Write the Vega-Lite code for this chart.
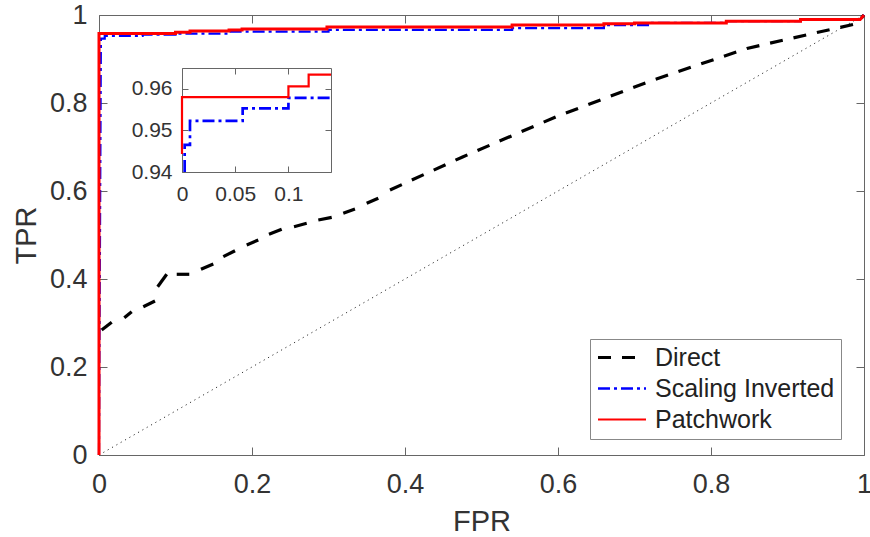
{
  "$schema": "https://vega.github.io/schema/vega-lite/v6.json",
  "width": 765,
  "height": 440,
  "autosize": {"type": "none"},
  "padding": {"left": 99, "top": 15, "right": 6, "bottom": 82},
  "background": "white",
  "config": {
    "view": {"stroke": null},
    "axis": {
      "grid": false,
      "domainColor": "#666666",
      "tickColor": "#666666",
      "labelColor": "#333333",
      "titleColor": "#333333",
      "labelFont": "Liberation Sans",
      "titleFont": "Liberation Sans",
      "titleFontWeight": "normal",
      "labelFlush": false,
      "labelOverlap": false
    }
  },
  "datasets": {
    "directDashes": [
      {"fpr": 0.0035, "tpr": 0.2841, "fpr2": 0.0166, "tpr2": 0.3016},
      {"fpr": 0.0331, "tpr": 0.312, "fpr2": 0.0427, "tpr2": 0.3257},
      {"fpr": 0.0579, "tpr": 0.337, "fpr2": 0.0732, "tpr2": 0.35},
      {"fpr": 0.0767, "tpr": 0.3825, "fpr2": 0.0885, "tpr2": 0.4107},
      {"fpr": 0.1016, "tpr": 0.4107, "fpr2": 0.118, "tpr2": 0.4107},
      {"fpr": 0.1333, "tpr": 0.422, "fpr2": 0.1494, "tpr2": 0.4341},
      {"fpr": 0.1625, "tpr": 0.4507, "fpr2": 0.1778, "tpr2": 0.4643},
      {"fpr": 0.1931, "tpr": 0.4773, "fpr2": 0.2082, "tpr2": 0.4886},
      {"fpr": 0.2222, "tpr": 0.5016, "fpr2": 0.2388, "tpr2": 0.513},
      {"fpr": 0.2549, "tpr": 0.5189, "fpr2": 0.2715, "tpr2": 0.5266},
      {"fpr": 0.2867, "tpr": 0.5341, "fpr2": 0.3042, "tpr2": 0.5402},
      {"fpr": 0.3193, "tpr": 0.5493, "fpr2": 0.3346, "tpr2": 0.5591},
      {"fpr": 0.3499, "tpr": 0.572, "fpr2": 0.3651, "tpr2": 0.5834}
    ],
    "direct": [
      {"i": 0, "fpr": 0.3804, "tpr": 0.6023},
      {"i": 1, "fpr": 0.476, "tpr": 0.678},
      {"i": 2, "fpr": 0.598, "tpr": 0.769},
      {"i": 3, "fpr": 0.724, "tpr": 0.852},
      {"i": 4, "fpr": 0.847, "tpr": 0.924},
      {"i": 5, "fpr": 0.933, "tpr": 0.958},
      {"i": 6, "fpr": 0.99, "tpr": 0.98},
      {"i": 7, "fpr": 1, "tpr": 1}
    ],
    "main": [
      {"series": "Scaling Inverted", "i": 0, "fpr": 0, "tpr": 0},
      {"series": "Scaling Inverted", "i": 1, "fpr": 0.0025, "tpr": 0.9465},
      {"series": "Scaling Inverted", "i": 2, "fpr": 0.0075, "tpr": 0.9465},
      {"series": "Scaling Inverted", "i": 3, "fpr": 0.0075, "tpr": 0.9523},
      {"series": "Scaling Inverted", "i": 4, "fpr": 0.057, "tpr": 0.9523},
      {"series": "Scaling Inverted", "i": 5, "fpr": 0.057, "tpr": 0.9553},
      {"series": "Scaling Inverted", "i": 6, "fpr": 0.1, "tpr": 0.9553},
      {"series": "Scaling Inverted", "i": 7, "fpr": 0.1, "tpr": 0.9578},
      {"series": "Scaling Inverted", "i": 8, "fpr": 0.168, "tpr": 0.9578},
      {"series": "Scaling Inverted", "i": 9, "fpr": 0.168, "tpr": 0.962},
      {"series": "Scaling Inverted", "i": 10, "fpr": 0.3, "tpr": 0.962},
      {"series": "Scaling Inverted", "i": 11, "fpr": 0.3, "tpr": 0.966},
      {"series": "Scaling Inverted", "i": 12, "fpr": 0.54, "tpr": 0.966},
      {"series": "Scaling Inverted", "i": 13, "fpr": 0.54, "tpr": 0.97},
      {"series": "Scaling Inverted", "i": 14, "fpr": 0.66, "tpr": 0.97},
      {"series": "Scaling Inverted", "i": 15, "fpr": 0.66, "tpr": 0.977},
      {"series": "Scaling Inverted", "i": 16, "fpr": 0.72, "tpr": 0.977},
      {"series": "Scaling Inverted", "i": 17, "fpr": 0.72, "tpr": 0.982},
      {"series": "Scaling Inverted", "i": 18, "fpr": 0.82, "tpr": 0.982},
      {"series": "Scaling Inverted", "i": 19, "fpr": 0.82, "tpr": 0.986},
      {"series": "Scaling Inverted", "i": 20, "fpr": 0.917, "tpr": 0.986},
      {"series": "Scaling Inverted", "i": 21, "fpr": 0.917, "tpr": 0.99},
      {"series": "Scaling Inverted", "i": 22, "fpr": 0.995, "tpr": 0.99},
      {"series": "Scaling Inverted", "i": 23, "fpr": 1, "tpr": 1},

      {"series": "Patchwork", "i": 0, "fpr": 0, "tpr": 0},
      {"series": "Patchwork", "i": 1, "fpr": 0, "tpr": 0.958},
      {"series": "Patchwork", "i": 2, "fpr": 0.1, "tpr": 0.958},
      {"series": "Patchwork", "i": 3, "fpr": 0.1, "tpr": 0.9606},
      {"series": "Patchwork", "i": 4, "fpr": 0.119, "tpr": 0.9606},
      {"series": "Patchwork", "i": 5, "fpr": 0.119, "tpr": 0.9634},
      {"series": "Patchwork", "i": 6, "fpr": 0.17, "tpr": 0.9634},
      {"series": "Patchwork", "i": 7, "fpr": 0.17, "tpr": 0.966},
      {"series": "Patchwork", "i": 8, "fpr": 0.187, "tpr": 0.966},
      {"series": "Patchwork", "i": 9, "fpr": 0.187, "tpr": 0.968},
      {"series": "Patchwork", "i": 10, "fpr": 0.298, "tpr": 0.968},
      {"series": "Patchwork", "i": 11, "fpr": 0.298, "tpr": 0.973},
      {"series": "Patchwork", "i": 12, "fpr": 0.54, "tpr": 0.973},
      {"series": "Patchwork", "i": 13, "fpr": 0.54, "tpr": 0.977},
      {"series": "Patchwork", "i": 14, "fpr": 0.66, "tpr": 0.977},
      {"series": "Patchwork", "i": 15, "fpr": 0.66, "tpr": 0.98},
      {"series": "Patchwork", "i": 16, "fpr": 0.7, "tpr": 0.98},
      {"series": "Patchwork", "i": 17, "fpr": 0.7, "tpr": 0.982},
      {"series": "Patchwork", "i": 18, "fpr": 0.82, "tpr": 0.982},
      {"series": "Patchwork", "i": 19, "fpr": 0.82, "tpr": 0.986},
      {"series": "Patchwork", "i": 20, "fpr": 0.917, "tpr": 0.986},
      {"series": "Patchwork", "i": 21, "fpr": 0.917, "tpr": 0.99},
      {"series": "Patchwork", "i": 22, "fpr": 0.995, "tpr": 0.99},
      {"series": "Patchwork", "i": 23, "fpr": 1, "tpr": 1}
    ],
    "inset": [
      {"series": "Scaling Inverted", "i": 0, "fpr": 0.0025, "tpr": 0.94},
      {"series": "Scaling Inverted", "i": 1, "fpr": 0.0025, "tpr": 0.9465},
      {"series": "Scaling Inverted", "i": 2, "fpr": 0.0075, "tpr": 0.9465},
      {"series": "Scaling Inverted", "i": 3, "fpr": 0.0075, "tpr": 0.9523},
      {"series": "Scaling Inverted", "i": 4, "fpr": 0.057, "tpr": 0.9523},
      {"series": "Scaling Inverted", "i": 5, "fpr": 0.057, "tpr": 0.9553},
      {"series": "Scaling Inverted", "i": 6, "fpr": 0.1, "tpr": 0.9553},
      {"series": "Scaling Inverted", "i": 7, "fpr": 0.1, "tpr": 0.9578},
      {"series": "Scaling Inverted", "i": 8, "fpr": 0.14, "tpr": 0.9578},
      {"series": "Patchwork", "i": 0, "fpr": 0, "tpr": 0.9443},
      {"series": "Patchwork", "i": 1, "fpr": 0, "tpr": 0.958},
      {"series": "Patchwork", "i": 2, "fpr": 0.1, "tpr": 0.958},
      {"series": "Patchwork", "i": 3, "fpr": 0.1, "tpr": 0.9606},
      {"series": "Patchwork", "i": 4, "fpr": 0.119, "tpr": 0.9606},
      {"series": "Patchwork", "i": 5, "fpr": 0.119, "tpr": 0.9634},
      {"series": "Patchwork", "i": 6, "fpr": 0.14, "tpr": 0.9634}
    ],
    "diag": [
      {"fpr": 0, "tpr": 0},
      {"fpr": 1, "tpr": 1}
    ]
  },
  "layer": [
    {
      "data": {"name": "diag"},
      "mark": {"type": "line", "color": "#333333", "strokeWidth": 1, "strokeDash": [1.2, 3.8]},
      "encoding": {
        "x": {"field": "fpr", "type": "quantitative",
              "scale": {"domain": [0, 1], "nice": false, "zero": false},
              "axis": {"orient": "top", "title": null, "labels": false, "values": [0, 0.2, 0.4, 0.6, 0.8, 1], "tickSize": -8}},
        "y": {"field": "tpr", "type": "quantitative",
              "scale": {"domain": [0, 1], "nice": false, "zero": false},
              "axis": {"orient": "right", "title": null, "labels": false, "values": [0, 0.2, 0.4, 0.6, 0.8, 1], "tickSize": -8}}
      }
    },
    {
      "encoding": {
        "x": {"field": "fpr", "type": "quantitative",
              "scale": {"domain": [0, 1], "nice": false, "zero": false},
              "axis": {"orient": "bottom", "title": "FPR", "values": [0, 0.2, 0.4, 0.6, 0.8, 1], "format": "~g",
                       "tickSize": -8, "labelFontSize": 27, "labelPadding": 24, "titleFontSize": 29, "titlePadding": 10}},
        "y": {"field": "tpr", "type": "quantitative",
              "scale": {"domain": [0, 1], "nice": false, "zero": false},
              "axis": {"orient": "left", "title": "TPR", "values": [0, 0.2, 0.4, 0.6, 0.8, 1], "format": "~g",
                       "tickSize": -8, "labelFontSize": 27, "labelPadding": 20, "titleFontSize": 29, "titlePadding": 8}}
      },
      "layer": [
        {
          "data": {"name": "directDashes"},
          "mark": {"type": "rule", "color": "#000000", "strokeWidth": 3.2, "strokeCap": "butt"},
          "encoding": {
            "x2": {"field": "fpr2"},
            "y2": {"field": "tpr2"}
          }
        },
        {
          "data": {"name": "direct"},
          "mark": {"type": "line", "color": "#000000", "strokeWidth": 3.2, "strokeDash": [13, 11]},
          "encoding": {"order": {"field": "i", "type": "quantitative"}}
        },
        {
          "data": {"name": "main"},
          "transform": [{"filter": "datum.series === 'Scaling Inverted'"}],
          "mark": {"type": "line", "color": "#0000ff", "strokeWidth": 2.2, "strokeDash": [12, 4, 3, 4]},
          "encoding": {"order": {"field": "i", "type": "quantitative"}}
        },
        {
          "data": {"name": "main"},
          "transform": [{"filter": "datum.series === 'Patchwork'"}],
          "mark": {"type": "line", "color": "#ff0000", "strokeWidth": 3},
          "encoding": {"order": {"field": "i", "type": "quantitative"}}
        }
      ]
    },
    {
      "data": {"name": "inset"},
      "encoding": {
        "x": {"field": "fpr", "type": "quantitative",
              "scale": {"domain": [0, 0.14], "range": [83, 232], "nice": false, "zero": false},
              "axis": {"orient": "bottom", "offset": -283, "title": null, "values": [0, 0.05, 0.1], "format": "~g",
                       "tickSize": -6, "labelFontSize": 21, "labelPadding": 17}},
        "y": {"field": "tpr", "type": "quantitative",
              "scale": {"domain": [0.94, 0.965], "range": [157, 53], "nice": false, "zero": false},
              "axis": {"orient": "left", "offset": -83, "title": null, "values": [0.94, 0.95, 0.96], "format": ".2f",
                       "tickSize": -6, "labelFontSize": 21, "labelPadding": 16}},
        "order": {"field": "i", "type": "quantitative"},
        "color": {"field": "series", "type": "nominal",
                  "scale": {"domain": ["Direct", "Scaling Inverted", "Patchwork"], "range": ["#000000", "#0000ff", "#ff0000"]},
                  "legend": {"orient": "none", "legendX": 491, "legendY": 324, "title": null,
                             "labelFont": "Liberation Sans", "labelFontSize": 25, "labelColor": "#222222", "labelLimit": 0,
                             "symbolType": "stroke", "symbolSize": 2304, "labelOffset": 7, "clipHeight": 25,
                             "padding": 6, "rowPadding": 5, "strokeColor": "#888888", "fillColor": "white"}},
        "strokeDash": {"field": "series", "type": "nominal",
                       "scale": {"domain": ["Direct", "Scaling Inverted", "Patchwork"], "range": [[13, 11], [12, 4, 3, 4], [1, 0]]}},
        "strokeWidth": {"field": "series", "type": "nominal",
                        "scale": {"domain": ["Direct", "Scaling Inverted", "Patchwork"], "range": [3.2, 2.2, 3]}}
      },
      "layer": [
        {"transform": [{"filter": "datum.series === 'Scaling Inverted'"}], "mark": {"type": "line"}},
        {"transform": [{"filter": "datum.series === 'Patchwork'"}], "mark": {"type": "line"}}
      ]
    },
    {
      "data": {"name": "inset"},
      "mark": {"type": "point", "opacity": 0},
      "encoding": {
        "x": {"field": "fpr", "type": "quantitative",
              "scale": {"domain": [0, 0.14], "range": [83, 232], "nice": false, "zero": false},
              "axis": {"orient": "top", "offset": -53, "title": null, "labels": false, "values": [0, 0.05, 0.1], "tickSize": -6}},
        "y": {"field": "tpr", "type": "quantitative",
              "scale": {"domain": [0.94, 0.965], "range": [157, 53], "nice": false, "zero": false},
              "axis": {"orient": "right", "offset": -533, "title": null, "labels": false, "values": [0.94, 0.95, 0.96], "tickSize": -6}}
      }
    }
  ],
  "resolve": {"scale": {"x": "independent", "y": "independent"}}
}
